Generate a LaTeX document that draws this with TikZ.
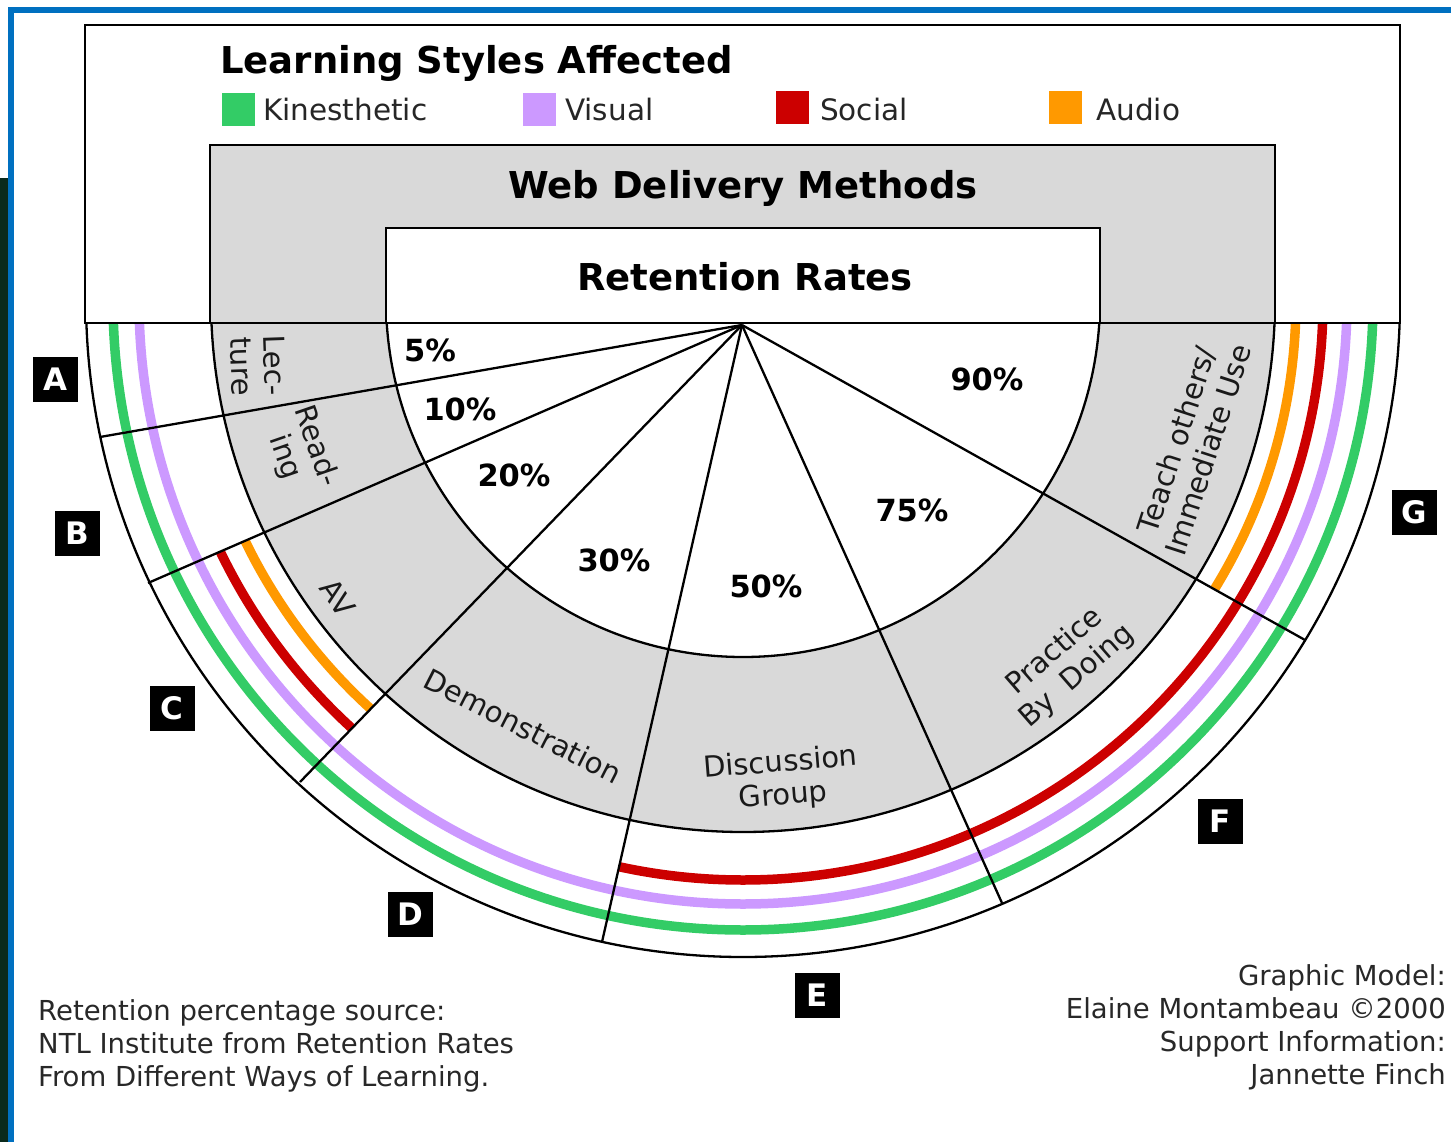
\documentclass[tikz,border=0pt]{standalone}
\usepackage{fontspec}
\setmainfont{DejaVu Sans}
\usetikzlibrary{calc}
\definecolor{kgreen}{RGB}{51,204,102}
\definecolor{vpurple}{RGB}{204,153,255}
\definecolor{sred}{RGB}{204,0,0}
\definecolor{aorange}{RGB}{255,153,0}
\definecolor{gband}{RGB}{217,217,217}
\definecolor{frameblue}{RGB}{0,112,192}
\definecolor{darkstrip}{RGB}{10,42,28}
\definecolor{foottext}{RGB}{40,40,40}
\begin{document}
\begin{tikzpicture}[x=1pt,y=-1pt,
  blk/.style={line width=2.8pt},
  edge/.style={line width=2.3pt},
  band/.style={line width=9.5pt},
  lbl/.style={font=\fontsize{29}{33}\selectfont, align=center, inner sep=0pt, text=black!90},
  pct/.style={font=\bfseries\fontsize{30.5}{33}\selectfont, inner sep=0pt},
  ttl/.style={font=\bfseries\fontsize{37}{40}\selectfont, inner sep=0pt},
  leg/.style={font=\fontsize{29.5}{33}\selectfont, anchor=base west, inner sep=0pt, text=black!85},
  sq/.style={minimum size=33pt, inner sep=0pt},
  letter/.style={fill=black, text=white, font=\bfseries\fontsize{31}{31}\selectfont, minimum size=45pt, inner sep=0pt},
  foot/.style={font=\fontsize{27.5}{33}\selectfont, inner sep=0pt, text=foottext},
]
\useasboundingbox (0,0) rectangle (1451,1142);
\fill[white] (0,0) rectangle (1451,1142);
\fill[darkstrip] (0,178) rectangle (8,1142);
\fill[frameblue] (8,7) rectangle (1451,13);
\fill[frameblue] (8,7) rectangle (14,1142);

% geometry
\coordinate (C) at (743,300);
\coordinate (O) at (742,325);
\coordinate (pAB) at (100,437);
\coordinate (pBC) at (148,583);
\coordinate (pCD) at (300,782);
\coordinate (pDE) at (602,942);
\coordinate (pEF) at (1002,903);
\coordinate (pFG) at (1305,640);
\coordinate (hL) at (742,323);

% grey band
\fill[gband] (210,145) rectangle (1275,323);
\begin{scope}
  \clip (0,323) rectangle (1451,1142);
  \fill[gband] (C) circle[radius=532];
  \fill[white] (C) circle[radius=357];
\end{scope}
\fill[white] (386,228) rectangle (1100,323);

% coloured bands per segment
\begin{scope}% A
  \clip (hL) -- (-200,323) -- ($(O)!2!(pAB)$) -- cycle;
  \draw[band,kgreen] (C) circle[radius=630];
  \draw[band,vpurple] (C) circle[radius=604];
\end{scope}
\begin{scope}% B
  \clip (O) -- ($(O)!2!(pAB)$) -- ($(O)!2!(pBC)$) -- cycle;
  \draw[band,kgreen] (C) circle[radius=630];
  \draw[band,vpurple] (C) circle[radius=604];
\end{scope}
\begin{scope}% C
  \clip (O) -- ($(O)!2!(pBC)$) -- ($(O)!2!(pCD)$) -- cycle;
  \draw[band,kgreen] (C) circle[radius=630];
  \draw[band,vpurple] (C) circle[radius=604];
  \draw[band,sred] (C) circle[radius=580];
  \draw[band,aorange] (C) circle[radius=553];
\end{scope}
\begin{scope}% D
  \clip (O) -- ($(O)!2!(pCD)$) -- ($(O)!2!(pDE)$) -- cycle;
  \draw[band,kgreen] (C) circle[radius=630];
  \draw[band,vpurple] (C) circle[radius=604];
\end{scope}
\begin{scope}% E
  \clip (O) -- ($(O)!2!(pDE)$) -- ($(O)!2!(pEF)$) -- cycle;
  \draw[band,kgreen] (C) circle[radius=630];
  \draw[band,vpurple] (C) circle[radius=604];
  \draw[band,sred] (C) circle[radius=580];
\end{scope}
\begin{scope}% F
  \clip (O) -- ($(O)!2!(pEF)$) -- ($(O)!2!(pFG)$) -- cycle;
  \draw[band,kgreen] (C) circle[radius=630];
  \draw[band,vpurple] (C) circle[radius=604];
  \draw[band,sred] (C) circle[radius=580];
\end{scope}
\begin{scope}% G
  \clip (hL) -- (1700,323) -- ($(O)!2!(pFG)$) -- cycle;
  \draw[band,kgreen] (C) circle[radius=630];
  \draw[band,vpurple] (C) circle[radius=604];
  \draw[band,sred] (C) circle[radius=580];
  \draw[band,aorange] (C) circle[radius=553];
\end{scope}

% arcs
\begin{scope}
  \clip (0,323) rectangle (1451,1142);
  \draw[edge] (C) circle[radius=357];
  \draw[edge] (C) circle[radius=532];
  \draw[edge] (C) circle[radius=657];
\end{scope}

% boxes
\draw[blk] (85,25) rectangle (1400,323);
\draw[blk] (210,145) rectangle (1275,323);
\draw[blk] (386,228) rectangle (1100,323);

% rays
\foreach \p in {pAB,pBC,pCD,pDE,pEF,pFG} \draw[edge] (O) -- (\p);

% titles
\node[ttl, anchor=base west] (title) at (220,74) {Learning Styles Affected};
\node[ttl, anchor=base] (web) at (743,199) {Web Delivery Methods};
\node[ttl, anchor=base] (ret) at (745,290) {Retention Rates};

% legend
\node[sq, fill=kgreen] (sqK) at (238.5,110) {};
\node[leg] (tK) at (263,121) {Kinesthetic};
\node[sq, fill=vpurple] (sqV) at (539,110) {};
\node[leg] (tV) at (565,121) {Visual};
\node[sq, fill=sred] (sqS) at (792,108) {};
\node[leg] (tS) at (820,121) {Social};
\node[sq, fill=aorange] (sqA) at (1065,108) {};
\node[leg] (tA) at (1096,121) {Audio};

% percentages
\node[pct] (p5) at (430,350) {5\%};
\node[pct] (p10) at (460,409) {10\%};
\node[pct] (p20) at (514,475) {20\%};
\node[pct] (p30) at (614,560) {30\%};
\node[pct] (p50) at (766,586) {50\%};
\node[pct] (p75) at (912,510) {75\%};
\node[pct] (p90) at (987,379) {90\%};

% method labels
\node[lbl, rotate=-88] (lec) at (258,366) {Lec-\\ture};
\node[lbl, rotate=-71] (read) at (300,452) {Read-\\ing};
\node[lbl, rotate=-54] (av) at (338,598) {AV};
\node[lbl, rotate=-27] (demo) at (523,726) {Demonstration};
\node[lbl, rotate=4.6] (disc) at (782,780) {Discussion\\Group};
\node[lbl, rotate=41] (prac) at (1066,664) {Practice\\By\ \ Doing};
\node[lbl, rotate=72] (teach) at (1192,445) {Teach others/\\Immediate Use};

% letter boxes
\node[letter] (A) at (55,379) {A};
\node[letter] (B) at (77,533) {B};
\node[letter] (Cb) at (172,708) {C};
\node[letter] (D) at (410,914) {D};
\node[letter] (E) at (817,995) {E};
\node[letter] (F) at (1220,821) {F};
\node[letter] (G) at (1414,512) {G};

% footers
\node[foot, anchor=north west, align=left] (src) at (38,999) {Retention percentage source:\\NTL Institute from Retention Rates\\From Different Ways of Learning.};
\node[foot, anchor=north east, align=right] (credit) at (1446,964) {Graphic Model:\\Elaine Montambeau ©2000\\Support Information:\\Jannette Finch};
\end{tikzpicture}
\end{document}
